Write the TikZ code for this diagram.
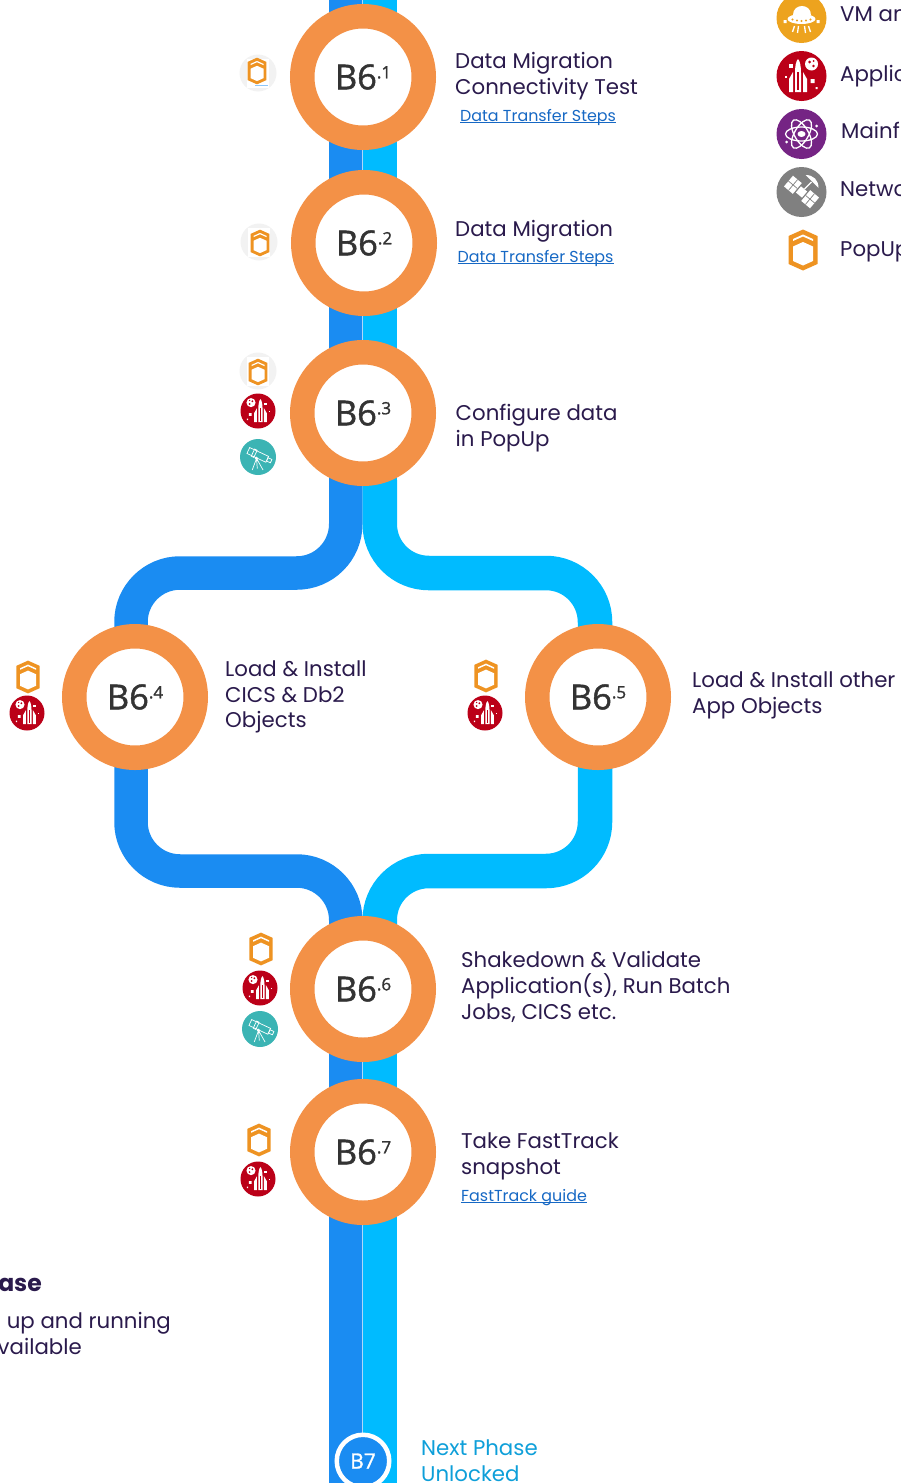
\documentclass[tikz,border=0pt]{standalone}
\usepackage{fontspec}
\setmainfont{Poppins}
\newfontfamily\stepfont[RawFeature={embolden=1.3}]{Open Sans}
\definecolor{trackblue}{HTML}{1A8CF2}
\definecolor{trackcyan}{HTML}{00BBFF}
\definecolor{ringorange}{HTML}{F39147}
\definecolor{hexorange}{HTML}{EE9322}
\definecolor{inkpurple}{HTML}{2A1A4C}
\definecolor{linkblue}{HTML}{1668C4}
\definecolor{nextblue}{HTML}{0E9FD9}
\definecolor{stepgrey}{HTML}{333333}
\definecolor{rocketred}{HTML}{BB0018}
\definecolor{teleteal}{HTML}{3BB4B4}
\definecolor{ufoyellow}{HTML}{EDA31E}
\definecolor{atompurple}{HTML}{752484}
\definecolor{satgrey}{HTML}{808080}
\definecolor{softgrey}{HTML}{F2F2F2}
\newcommand{\stepmark}[1]{{\stepfont\fontsize{34.5}{35}\selectfont B6\raisebox{11pt}{\fontsize{17}{17}\selectfont.#1}}}
\newcommand{\lnk}[1]{\setbox0=\hbox{#1}\rlap{\rule[-2pt]{\wd0}{.7pt}}\box0}
\tikzset{
  x=1pt,y=-1pt,
  trackb/.style={draw=trackblue,line width=33.5pt,rounded corners=49pt},
  trackc/.style={draw=trackcyan,line width=34.5pt,rounded corners=49pt},
  seam/.style={draw=white!65!trackblue,line width=.7pt},
  stepnode/.style={circle,draw=ringorange,fill=white,line width=24.5pt,minimum size=121.5pt,inner sep=0pt,text=stepgrey},
  lab/.style={anchor=north west,inner sep=0pt,align=left,text=inkpurple,font=\fontsize{21.3}{25.7}\selectfont},
  linklab/.style={anchor=base west,inner sep=0pt,text=linkblue,font=\fontsize{15.9}{20}\selectfont},
  legendlab/.style={anchor=base west,inner sep=0pt,text=inkpurple,font=\fontsize{21.3}{25.7}\selectfont},
  pics/hexicon/.style={code={
    \fill[hexorange] (0,-20.5)--(14.5,-14)--(14.5,14)--(0,20.5)--(-14.5,14)--(-14.5,-14)--cycle;
    \fill[white] (0,-8)--(10,-3.5)--(10,11)--(0,15.5)--(-10,11)--(-10,-3.5)--cycle;
    \fill[white] (0,-15.5)--(10,-11)--(10,-9)--(0,-13.5)--(-10,-9)--(-10,-11)--cycle;
  }},
  pics/softhex/.style={code={
    \fill[softgrey] (0,0) circle (18.5);
    \fill[white] (-11,-14) rectangle (11,15);
  }},
  pics/rocketicon/.style={code={
    \fill[rocketred] (0,0) circle (25);
    \begin{scope}[xshift=-3.5pt]
      \fill[white] (-3,-3) .. controls (-3,-10) and (-2,-15) .. (0,-17) .. controls (2,-15) and (3,-10) .. (3,-3) -- (3,16) -- (-3,16) -- cycle;
      \fill[white] (-9,3) -- (-5,-4) -- (-5,16) -- (-9,16) -- cycle;
      \fill[white] (9,3) -- (5,-4) -- (5,16) -- (9,16) -- cycle;
      \fill[rocketred] (-.7,-4) rectangle (.7,14);
    \end{scope}
    \fill[white] (10,-12) circle (6.5);
    \fill[rocketred] (8,-14) circle (1.5) (12,-10) circle (1.3) (12,-15) circle (1);
    \fill[white] (-13,-12) rectangle (-9,-8);
    \fill[white] (-17,0) rectangle (-15,2);
    \fill[white] (9,3) rectangle (13,7) (14,11) rectangle (16,13);
  }},
  pics/teleicon/.style={code={
    \fill[teleteal] (0,0) circle (25);
    \begin{scope}[draw=white,rotate=-25]
      \draw (-16,-7) rectangle (13,2);
      \draw (-9,-8) rectangle (-5,3);
      \draw (13,-5) rectangle (19,0);
    \end{scope}
    \draw[white] (-2,2) -- (-8,18) (-2,2) -- (7,18) (-2,2) -- (-1,16);
    \fill[white] (-2,2) circle (2.5);
  }},
  pics/ufoicon/.style={code={
    \fill[ufoyellow] (0,0) circle (25);
    \fill[white] (-9,-3) .. controls (-9,-15) and (9,-15) .. (9,-3) -- cycle;
    \fill[white] (0,1) ellipse (14 and 5);
    \fill[ufoyellow] (-9,1.5) circle (1.1) (-4.5,2.5) circle (1.1) (0,3) circle (1.1) (4.5,2.5) circle (1.1) (9,1.5) circle (1.1);
    \draw[white] (-7,8) -- (-9,14) (-3,8) -- (-4,15) (3,8) -- (4,15) (7,8) -- (9,14);
    \fill[white] (-18,2) rectangle (-15,5) (15,2) rectangle (18,5);
  }},
  pics/atomicon/.style={code={
    \fill[atompurple] (0,0) circle (25);
    \draw[white] (0,0) ellipse (16 and 7);
    \draw[white,rotate=60] (0,0) ellipse (16 and 7);
    \draw[white,rotate=-60] (0,0) ellipse (16 and 7);
    \fill[white] (0,0) ellipse (4 and 3);
    \fill[white] (15,-8) circle (1.5) (-15,8) circle (1.5);
  }},
  pics/saticon/.style={code={
    \fill[satgrey] (0,0) circle (25);
    \begin{scope}[rotate=-40]
      \fill[white] (-4,-4) rectangle (4,4);
      \fill[white] (-17,-7) rectangle (-5.5,7);
      \fill[white] (5.5,-7) rectangle (17,7);
      \draw[satgrey,line width=.7pt] (-11,-7) -- (-11,7) (-17,0) -- (-5.5,0) (11,-7) -- (11,7) (5.5,0) -- (17,0);
    \end{scope}
    \fill[white] (4,-17) .. controls (12,-17) and (17,-12) .. (17,-4) -- cycle;
    \draw[white] (10,-10) -- (3,-3);
  }}
}
\begin{document}
\begin{tikzpicture}
\useasboundingbox (0,0) rectangle (901,1483);
\clip (0,0) rectangle (901,1483);

% track way points
\coordinate (btop) at (345.75,-5);
\coordinate (ctop) at (379.75,-5);
\coordinate (seamtop) at (362.5,-5);
\coordinate (bsplit) at (345.75,480);
\coordinate (csplit) at (379.75,480);
\coordinate (seamsplit) at (362.5,480);
\coordinate (bc1) at (345.75,573);
\coordinate (bc2) at (131,573);
\coordinate (bmid) at (131,697);
\coordinate (bc3) at (131,871);
\coordinate (bc4) at (345.75,871);
\coordinate (bjoin) at (345.75,989);
\coordinate (cc1) at (379.75,573);
\coordinate (cc2) at (595,573);
\coordinate (cmid) at (595,697);
\coordinate (cc3) at (595,871);
\coordinate (cc4) at (379.75,871);
\coordinate (cjoin) at (379.75,989);
\coordinate (seamjoin) at (362.5,989);
\coordinate (bend) at (345.75,1490);
\coordinate (cend) at (379.75,1490);
\coordinate (seamend) at (362.5,1440);

\draw[trackb] (btop) -- (bsplit);
\draw[trackc] (ctop) -- (csplit);
\draw[trackb] (bsplit) -- (bc1) -- (bc2) -- (bmid);
\draw[trackc] (csplit) -- (cc1) -- (cc2) -- (cmid);
\draw[trackb] (bmid) -- (bc3) -- (bc4) -- (bjoin);
\draw[trackc] (cmid) -- (cc3) -- (cc4) -- (cjoin);
\draw[trackb] (bjoin) -- (bend);
\draw[trackc] (cjoin) -- (cend);
\draw[seam] (seamtop) -- (seamsplit);
\draw[seam] (seamjoin) -- (seamend);

% steps
\node[stepnode] (s1) at (363,77) {\stepmark{1}};
\node[stepnode] (s2) at (364,243) {\stepmark{2}};
\node[stepnode] (s3) at (363,413) {\stepmark{3}};
\node[stepnode] (s4) at (135,697) {\stepmark{4}};
\node[stepnode] (s5) at (598,697) {\stepmark{5}};
\node[stepnode] (s6) at (363,989) {\stepmark{6}};
\node[stepnode] (s7) at (363,1152) {\stepmark{7}};
\node[circle,draw=white,fill=trackblue,line width=4.5pt,minimum size=52.5pt,inner sep=0pt,text=white,font=\stepfont\fontsize{21}{21}\selectfont] (b7) at (363,1461) {B7};

% step labels
\node[lab] (t1) at (455,52.5) {Data Migration\\Connectivity Test};
\node[linklab] (l1) at (460,121) {\lnk{Data Transfer Steps}};
\node[lab] (t2) at (455,220.5) {Data Migration};
\node[linklab] (l2) at (457.5,262) {\lnk{Data Transfer Steps}};
\node[lab] (t3) at (455.5,404.5) {Configure data\\in PopUp};
\node[lab] (t4) at (225,660.5) {Load \& Install\\CICS \& Db2\\Objects};
\node[lab] (t5) at (692,672) {Load \& Install other\\App Objects};
\node[lab] (t6) at (461,951.5) {Shakedown \& Validate\\Application(s), Run Batch\\Jobs, CICS etc.};
\node[lab] (t7) at (461,1133) {Take FastTrack\\snapshot};
\node[linklab] (l7) at (461,1201) {\lnk{FastTrack guide}};
\node[lab,text=nextblue] (t8) at (421,1440) {Next Phase\\Unlocked};

% cut-off texts at the left edge
\node[anchor=base east,inner sep=0pt,text=inkpurple,font=\fontsize{23.5}{25.7}\selectfont\bfseries] (p1) at (42,1291) {ase};
\node[anchor=base east,inner sep=0pt,text=inkpurple,font=\fontsize{21.3}{25.7}\selectfont] (p2) at (171,1328) {up and running};
\node[anchor=base east,inner sep=0pt,text=inkpurple,font=\fontsize{21.3}{25.7}\selectfont] (p3) at (82,1354) {vailable};

% legend
\node[legendlab] (g1) at (840,21) {VM an};
\node[legendlab] (g2) at (840,81) {Applic};
\node[legendlab] (g3) at (841,138) {Mainf};
\node[legendlab] (g4) at (840,196) {Netwo};
\node[legendlab] (g5) at (840,256) {PopUp};
\pic[line width=1.3pt] at (801.5,18) {ufoicon};
\pic[line width=1.3pt] at (801.5,76) {rocketicon};
\pic[line width=1.3pt] at (801.5,134) {atomicon};
\pic[line width=1.3pt] at (801.5,192) {saticon};
\pic at (803,250) {hexicon};

% icons by the steps
\pic at (258,73) {softhex};
\pic[scale=.65] at (257,71) {hexicon};
\fill[trackblue!50] (255,85) rectangle (268,85.8);
\pic at (259,242) {softhex};
\pic[scale=.65] at (260,243) {hexicon};
\pic at (258,371) {softhex};
\pic[scale=.65] at (258,372) {hexicon};
\pic[xscale=-.7,yscale=.7] at (258,411) {rocketicon};
\pic[scale=.72,line width=.7pt] at (258,457) {teleicon};
\pic[scale=.8] at (28,677) {hexicon};
\pic[xscale=-.7,yscale=.7] at (27,713) {rocketicon};
\pic[scale=.8] at (486,676) {hexicon};
\pic[xscale=-.7,yscale=.7] at (485,713) {rocketicon};
\pic[scale=.8] at (261,949) {hexicon};
\pic[xscale=-.7,yscale=.7] at (260,988) {rocketicon};
\pic[scale=.72,line width=.7pt] at (260,1029) {teleicon};
\pic[scale=.8] at (259,1140) {hexicon};
\pic[xscale=-.7,yscale=.7] at (258,1179) {rocketicon};
\end{tikzpicture}
\end{document}
